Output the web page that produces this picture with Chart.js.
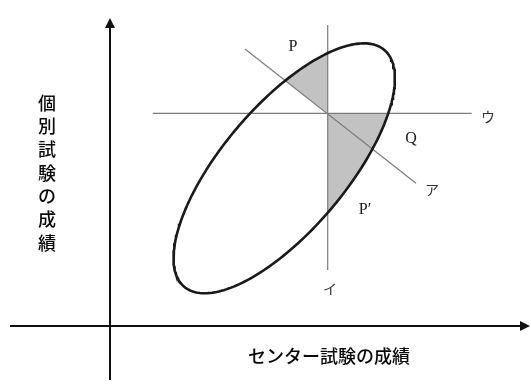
<!DOCTYPE html>
<html>
<head>
<meta charset="utf-8">
<script src="https://cdn.jsdelivr.net/npm/chart.js@4"></script>
<style>
  html, body { margin: 0; padding: 0; background: #fff; }
  #wrap { width: 531px; height: 385px; }
</style>
</head>
<body>
<div id="wrap"><canvas id="chart" width="531" height="385"></canvas></div>
<script>
// drawing space: 1 unit = 1 px, origin where the two axes cross, y up
const xRange = [-110, 421];
const yRange = [-59, 326];

const xAxisLine = [-100, 420];   // from .. arrow tip
const yAxisLine = [-54, 308];

// ellipse: centre, semi axes, tilt in degrees
const ellipseCentre = [174.2, 157.7];
const ellipseRadii = [155, 62];
const ellipseTilt = 49.8;

const lineA = [[135, 277], [306, 142.7]];      // ア
const lineI = [[217.7, 56], [217.7, 301]];      // イ
const lineU = [[42.7, 212.7], [361.7, 212.7]];  // ウ
const crossing = [217.7, 212.7];

const pointLabels = ['P', 'Q', 'P′'];
const pointLabelPos = [[183, 279], [301, 187], [255, 116]];
const lineLabels = ['ア', 'イ', 'ウ'];
const lineLabelPos = [[322, 136], [220, 37], [378, 209]];

const xTitle = 'センター試験の成績';
const xTitlePos = [219, -30];
const yTitle = '個別試験の成績';
const yTitlePos = [-63, 223];
const yTitleStep = 23.3;

function ellipsePoints(n) {
    const t = ellipseTilt * Math.PI / 180;
    const pts = [];
    for (let i = 0; i <= n; i++) {
        const s = 2 * Math.PI * i / n;
        const u = ellipseRadii[0] * Math.cos(s);
        const v = ellipseRadii[1] * Math.sin(s);
        pts.push({
            x: ellipseCentre[0] + u * Math.cos(t) - v * Math.sin(t),
            y: ellipseCentre[1] + u * Math.sin(t) + v * Math.cos(t)
        });
    }
    return pts;
}

const ellipse = ellipsePoints(240);
const toPts = arr => arr.map(p => ({ x: p[0], y: p[1] }));

function thinLine(pts) {
    return {
        data: toPts(pts),
        showLine: true,
        borderColor: '#7c7c7c',
        borderWidth: 1.2,
        pointRadius: 0,
        fill: false
    };
}

// grey regions, clipped to the inside of the ellipse
const shading = {
    id: 'shading',
    beforeDatasetsDraw(chart) {
        const { ctx, scales: { x, y } } = chart;
        const px = p => [x.getPixelForValue(p[0]), y.getPixelForValue(p[1])];
        ctx.save();
        ctx.beginPath();
        ellipse.forEach((p, i) => {
            const q = px([p.x, p.y]);
            i ? ctx.lineTo(q[0], q[1]) : ctx.moveTo(q[0], q[1]);
        });
        ctx.closePath();
        ctx.clip();

        const far = [crossing[0] + 4 * (lineA[0][0] - crossing[0]),
                     crossing[1] + 4 * (lineA[0][1] - crossing[1])];
        const regions = [
            [crossing, far, [far[0], 2000], [crossing[0], 2000]],
            [crossing, [2000, crossing[1]], [2000, -2000], [crossing[0], -2000]]
        ];
        ctx.fillStyle = '#c2c2c2';
        regions.forEach(poly => {
            ctx.beginPath();
            poly.forEach((p, i) => {
                const q = px(p);
                i ? ctx.lineTo(q[0], q[1]) : ctx.moveTo(q[0], q[1]);
            });
            ctx.closePath();
            ctx.fill();
        });
        ctx.restore();
    }
};

// arrow heads and all the text
const annotations = {
    id: 'annotations',
    afterDatasetsDraw(chart) {
        const { ctx, scales: { x, y } } = chart;
        ctx.save();
        ctx.fillStyle = '#111';
        // x axis arrow
        let tx = x.getPixelForValue(xAxisLine[1]), ty = y.getPixelForValue(0);
        ctx.beginPath();
        ctx.moveTo(tx, ty);
        ctx.lineTo(tx - 10, ty - 5);
        ctx.lineTo(tx - 10, ty + 5);
        ctx.closePath();
        ctx.fill();
        // y axis arrow
        tx = x.getPixelForValue(0); ty = y.getPixelForValue(yAxisLine[1]);
        ctx.beginPath();
        ctx.moveTo(tx, ty);
        ctx.lineTo(tx - 5, ty + 10);
        ctx.lineTo(tx + 5, ty + 10);
        ctx.closePath();
        ctx.fill();

        ctx.textAlign = 'center';
        ctx.textBaseline = 'middle';
        ctx.font = '16px "Liberation Serif", "DejaVu Serif", serif';
        ctx.fillStyle = '#1a1a1a';
        pointLabels.forEach((t, i) => {
            ctx.fillText(t, x.getPixelForValue(pointLabelPos[i][0]), y.getPixelForValue(pointLabelPos[i][1]));
        });
        ctx.font = '14px "Noto Sans CJK JP", sans-serif';
        ctx.fillStyle = '#333';
        lineLabels.forEach((t, i) => {
            ctx.fillText(t, x.getPixelForValue(lineLabelPos[i][0]), y.getPixelForValue(lineLabelPos[i][1]));
        });

        ctx.font = '500 18px "Noto Sans CJK JP", sans-serif';
        ctx.fillStyle = '#0a0a0a';
        ctx.fillText(xTitle, x.getPixelForValue(xTitlePos[0]), y.getPixelForValue(xTitlePos[1]));
        [...yTitle].forEach((c, i) => {
            ctx.fillText(c, x.getPixelForValue(yTitlePos[0]), y.getPixelForValue(yTitlePos[1] - i * yTitleStep));
        });
        ctx.restore();
    }
};

new Chart(document.getElementById('chart'), {
    type: 'scatter',
    data: {
        datasets: [
            {
                data: ellipse,
                showLine: true,
                borderColor: '#1a1a1a',
                borderWidth: 2.6,
                pointRadius: 0,
                tension: 0,
                fill: false
            },
            thinLine(lineA),
            thinLine(lineI),
            thinLine(lineU),
            {
                data: [{ x: xAxisLine[0], y: 0 }, { x: xAxisLine[1] - 8, y: 0 }],
                showLine: true, borderColor: '#111', borderWidth: 2, pointRadius: 0
            },
            {
                data: [{ x: 0, y: yAxisLine[0] }, { x: 0, y: yAxisLine[1] - 8 }],
                showLine: true, borderColor: '#111', borderWidth: 2, pointRadius: 0
            }
        ]
    },
    options: {
        responsive: false,
        animation: false,
        layout: { padding: 0 },
        plugins: { legend: { display: false }, tooltip: { enabled: false } },
        scales: {
            x: { type: 'linear', min: xRange[0], max: xRange[1], display: false },
            y: { type: 'linear', min: yRange[0], max: yRange[1], display: false }
        }
    },
    plugins: [shading, annotations]
});
</script>
</body>
</html>
